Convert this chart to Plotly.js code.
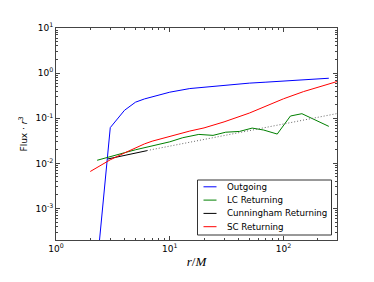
<!DOCTYPE html>
<html>
<head>
<meta charset="utf-8">
<script src="https://cdn.plot.ly/plotly-3.0.1.min.js"></script>
<style>html,body{margin:0;padding:0;background:#fff;}#chart{width:374px;height:282px;}</style>
</head>
<body>
<div id="chart"></div>
<script>
// Outgoing flux
var outR = [2.35, 3, 4, 5, 6, 8, 10, 15, 20, 30, 50, 70, 100, 150, 250];
var outF = [0.0001, 0.062, 0.150, 0.227, 0.268, 0.326, 0.378, 0.455, 0.49, 0.54, 0.60, 0.63, 0.67, 0.71, 0.77];
// LC returning
var lcR = [2.3, 3, 4, 5, 7, 10, 13, 18, 24, 31, 41, 53, 67, 88, 115, 145, 250];
var lcF = [0.0117, 0.0143, 0.0172, 0.020, 0.024, 0.030, 0.037, 0.0438, 0.0417, 0.049, 0.051, 0.0605, 0.0547, 0.0446, 0.112, 0.126, 0.066];
// Cunningham returning
var cunR = [2.85, 4, 5, 6.3];
var cunF = [0.0125, 0.0148, 0.0167, 0.0191];
// SC returning
var scR = [2.0, 3, 4, 5, 6, 7, 10, 15, 20, 30, 50, 70, 100, 150, 200, 295];
var scF = [0.0066, 0.012, 0.017, 0.022, 0.027, 0.031, 0.040, 0.052, 0.061, 0.083, 0.13, 0.185, 0.27, 0.39, 0.49, 0.65];
// Dotted power-law extension
var fitR = [6.3, 300];
var fitF = [0.0192, 0.128];

var seriesNames = ['Outgoing', 'LC Returning', 'Cunningham Returning', 'SC Returning'];
var seriesColors = ['#0000ff', '#008000', '#000000', '#ff0000'];
var xTickVals = [1, 10, 100];
var xTickText = ['10<sup>0</sup>', '10<sup>1</sup>', '10<sup>2</sup>'];
var yTickVals = [0.001, 0.01, 0.1, 1, 10];
var yTickText = ['10<sup>-3</sup>', '10<sup>-2</sup>', '10<sup>-1</sup>', '10<sup>0</sup>', '10<sup>1</sup>'];

function minorVals(dMin, dMax) {
  var v = [];
  for (var d = dMin; d <= dMax; d++) {
    for (var k = 2; k <= 9; k++) v.push(k * Math.pow(10, d));
  }
  return v;
}

var seriesX = [outR, lcR, cunR, scR];
var seriesY = [outF, lcF, cunF, scF];
var traces = [];
for (var i = 0; i < 4; i++) {
  traces.push({x: seriesX[i], y: seriesY[i], name: seriesNames[i], mode: 'lines',
    showlegend: false, line: {color: seriesColors[i], width: 1}});
}
traces.push({x: fitR, y: fitF, mode: 'lines', showlegend: false,
  line: {color: '#666666', width: 1, dash: '1px,2px'}});

var axisCommon = {
  type: 'log', showgrid: false, zeroline: false,
  showline: true, linecolor: '#444', linewidth: 1, mirror: 'allticks',
  ticks: 'inside', ticklen: 4, tickcolor: '#444', tickwidth: 1,
  tickmode: 'array',
  tickfont: {family: 'DejaVu Sans', size: 9, color: '#000'}
};

// Manual legend (compact entries like the reference)
var plotL = 56, plotR = 337, plotT = 28, plotB = 240;
var W = plotR - plotL, H = plotB - plotT;
function px(x) { return (x - plotL) / W; }
function py(y) { return (plotB - y) / H; }
var legBox = {x0: 197.5, x1: 331.5, y0: 180, y1: 235};
var legFirstY = 186.8, legStep = 13.3;
var shapes = [{type: 'rect', xref: 'paper', yref: 'paper', layer: 'above',
  x0: px(legBox.x0), x1: px(legBox.x1), y0: py(legBox.y1), y1: py(legBox.y0),
  line: {color: '#333', width: 1}, fillcolor: '#ffffff'}];
var annotations = [];
for (var j = 0; j < seriesNames.length; j++) {
  var yy = py(legFirstY + j * legStep);
  shapes.push({type: 'line', xref: 'paper', yref: 'paper', layer: 'above',
    x0: px(203.5), x1: px(216.5), y0: yy, y1: yy,
    line: {color: seriesColors[j], width: 1}});
  annotations.push({xref: 'paper', yref: 'paper', x: px(224.8), y: yy,
    xanchor: 'left', yanchor: 'middle', showarrow: false, text: seriesNames[j],
    font: {family: 'DejaVu Sans', size: 8.7, color: '#000'}});
}

var layout = {
  width: 374, height: 282,
  margin: {l: 56, r: 37, t: 28, b: 42},
  paper_bgcolor: '#fff', plot_bgcolor: '#fff',
  showlegend: false,
  shapes: shapes,
  annotations: annotations,
  xaxis: Object.assign({}, axisCommon, {
    range: [0, Math.log10(295)],
    tickvals: xTickVals, ticktext: xTickText,
    minor: {tickmode: 'array', tickvals: minorVals(0, 2), ticks: 'inside', ticklen: 2, tickcolor: '#444', tickwidth: 1, showgrid: false},
    title: {text: '<i>r</i>/<i>M</i>', font: {family: 'Liberation Serif', size: 13, color: '#000'}, standoff: 4}
  }),
  yaxis: Object.assign({}, axisCommon, {
    range: [Math.log10(2e-4), 1],
    tickvals: yTickVals, ticktext: yTickText,
    minor: {tickmode: 'array', tickvals: minorVals(-4, 0), ticks: 'inside', ticklen: 2, tickcolor: '#444', tickwidth: 1, showgrid: false},
    title: {text: 'Flux · <i>r</i><sup>3</sup>', font: {family: 'DejaVu Sans', size: 9, color: '#000'}, standoff: 6}
  })
};

Plotly.newPlot('chart', traces, layout, {staticPlot: true, displayModeBar: false});
</script>
</body>
</html>
